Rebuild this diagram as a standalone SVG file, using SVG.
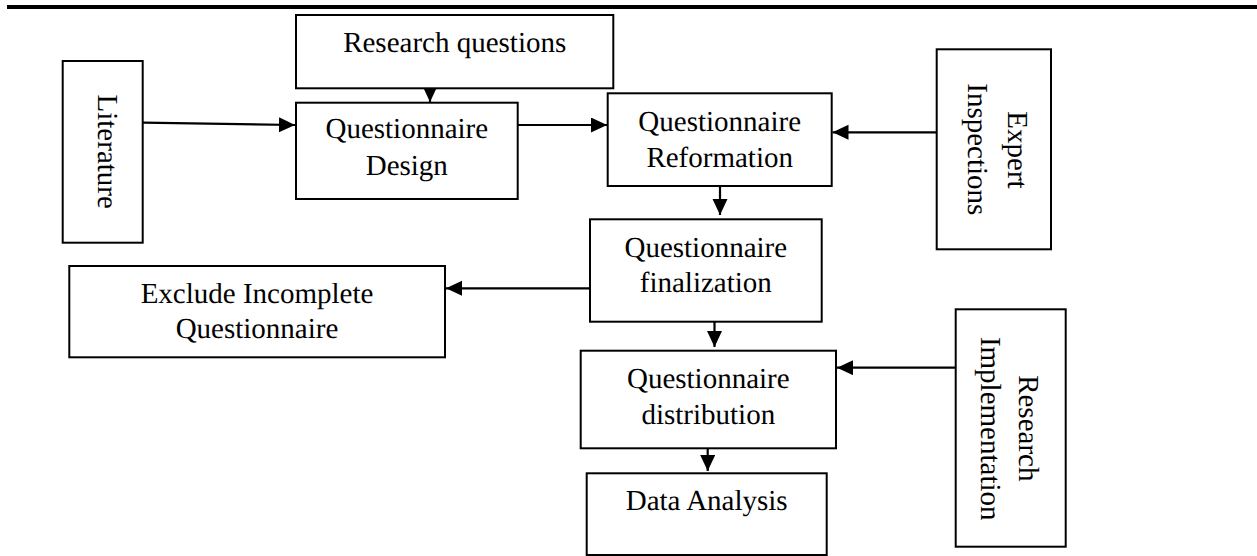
<svg xmlns="http://www.w3.org/2000/svg" width="1257" height="556" viewBox="0 0 1257 556" text-rendering="geometricPrecision">
<style>
.box{fill:#fff;stroke:#000;stroke-width:2}
text{font-family:'Liberation Serif',serif;font-size:29px;fill:#000;text-anchor:middle}
.c{stroke:#000;stroke-width:2.2;fill:none;marker-end:url(#ah)}
</style>
<defs>
<marker id="ah" markerUnits="userSpaceOnUse" markerWidth="18" markerHeight="18" refX="16" refY="7.5" orient="auto">
<path d="M0,0 L16,7.5 L0,15 z" fill="#000"/>
</marker>
</defs>
<rect width="1257" height="556" fill="#fff"/>
<line x1="7" y1="7" x2="1257" y2="7" stroke="#000" stroke-width="4"/>
<g id="connectors">
<line class="c" x1="430" y1="62" x2="430" y2="102"/>
<line class="c" x1="143" y1="122.7" x2="295" y2="125"/>
<line class="c" x1="518" y1="125" x2="607" y2="125"/>
<line class="c" x1="937" y1="132.3" x2="832.5" y2="132.3"/>
<line class="c" x1="720" y1="179" x2="720" y2="215"/>
<line class="c" x1="597" y1="288.3" x2="446" y2="288.3"/>
<line class="c" x1="714.5" y1="307" x2="714.5" y2="347"/>
<line class="c" x1="956" y1="367.7" x2="837" y2="367.7"/>
<line class="c" x1="707.7" y1="432" x2="707.7" y2="471"/>
</g>
<g id="literature">
<rect class="box" x="62.7" y="61" width="80" height="181.7"/>
<text transform="translate(98,151.7) rotate(90)">Literature</text>
</g>
<g id="research-questions">
<rect class="box" x="296" y="15" width="317.3" height="73.3"/>
<text x="454.7" y="51.7">Research questions</text>
</g>
<g id="questionnaire-design">
<rect class="box" x="296" y="102.7" width="221.7" height="96.3"/>
<text x="406.8" y="138.3">Questionnaire</text>
<text x="406.8" y="175">Design</text>
</g>
<g id="questionnaire-reformation">
<rect class="box" x="607.7" y="93.3" width="224" height="92.7"/>
<text x="719.7" y="130.7">Questionnaire</text>
<text x="719.7" y="167.3">Reformation</text>
</g>
<g id="expert-inspections">
<rect class="box" x="936.7" y="49.3" width="114.3" height="200"/>
<text transform="translate(1007.5,150) rotate(90)">Expert</text>
<text transform="translate(967.5,149.3) rotate(90)">Inspections</text>
</g>
<g id="questionnaire-finalization">
<rect class="box" x="590" y="219.3" width="231.7" height="102.4"/>
<text x="705.8" y="256.7">Questionnaire</text>
<text x="705.8" y="292">finalization</text>
</g>
<g id="exclude-incomplete">
<rect class="box" x="69.3" y="266" width="375.7" height="91.3"/>
<text x="257" y="302.7">Exclude Incomplete</text>
<text x="257" y="338.3">Questionnaire</text>
</g>
<g id="questionnaire-distribution">
<rect class="box" x="580.7" y="350.7" width="255.3" height="97.6"/>
<text x="708.3" y="388.3">Questionnaire</text>
<text x="708.3" y="424.3">distribution</text>
</g>
<g id="research-implementation">
<rect class="box" x="955.7" y="309.3" width="110" height="237.4"/>
<text transform="translate(1019,428.3) rotate(90)">Research</text>
<text transform="translate(981,428.7) rotate(90)">Implementation</text>
</g>
<g id="data-analysis">
<rect class="box" x="586.7" y="473.3" width="240" height="81.7"/>
<text x="706.7" y="510">Data Analysis</text>
</g>
</svg>
